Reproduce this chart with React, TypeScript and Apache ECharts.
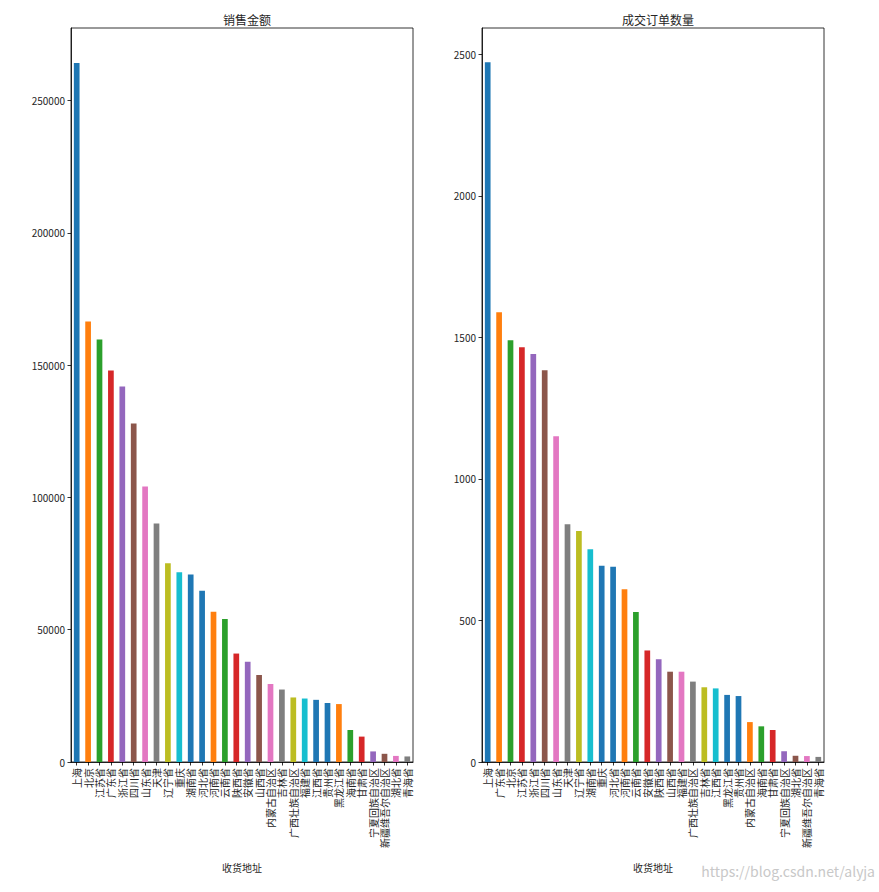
import React, { useEffect, useRef } from "react";
import * as echarts from "echarts";

const salesCategories = ["上海", "北京", "江苏省", "广东省", "浙江省", "四川省", "山东省", "天津", "辽宁省", "重庆", "湖南省", "河北省", "河南省", "云南省", "陕西省", "安徽省", "山西省", "内蒙古自治区", "吉林省", "广西壮族自治区", "福建省", "江西省", "贵州省", "黑龙江省", "海南省", "甘肃省", "宁夏回族自治区", "新疆维吾尔自治区", "湖北省", "青海省"];
const salesValues = [264300, 166500, 159700, 148000, 142000, 128000, 104200, 90200, 75100, 71700, 70900, 64700, 56800, 54100, 41000, 37900, 32900, 29500, 27400, 24400, 24000, 23500, 22300, 21900, 12100, 9600, 4000, 3100, 2300, 2100];

const orderCategories = ["上海", "广东省", "北京", "江苏省", "浙江省", "四川省", "山东省", "天津", "辽宁省", "湖南省", "重庆", "河北省", "河南省", "云南省", "安徽省", "陕西省", "山西省", "福建省", "广西壮族自治区", "吉林省", "江西省", "黑龙江省", "贵州省", "内蒙古自治区", "海南省", "甘肃省", "宁夏回族自治区", "湖北省", "新疆维吾尔自治区", "青海省"];
const orderValues = [2472, 1589, 1490, 1465, 1441, 1384, 1151, 840, 816, 752, 693, 690, 610, 530, 394, 363, 319, 319, 284, 264, 260, 237, 233, 141, 126, 113, 38, 22, 21, 18];

const salesTicks = { min: 0, max: 277500, interval: 50000 };
const orderTicks = { min: 0, max: 2593, interval: 500 };

const palette = ["#1f77b4", "#ff7f0e", "#2ca02c", "#d62728", "#9467bd", "#8c564b", "#e377c2", "#7f7f7f", "#bcbd22", "#17becf", "#1f77b4"];

const FONT = "Noto Sans CJK SC";

export default function App() {
  const ref = useRef<HTMLDivElement>(null);
  useEffect(() => {
    if (!ref.current) return;
    const chart = echarts.init(ref.current, undefined, { renderer: "svg" });
    const textColor = "#262626";
    const mkX = (cats: string[], gi: number) => ({
      type: "category",
      gridIndex: gi,
      data: cats,
      boundaryGap: true,
      name: "收货地址",
      nameLocation: "middle",
      nameGap: 100,
      nameTextStyle: { fontFamily: FONT, fontSize: 10, color: textColor },
      axisLine: { show: true, lineStyle: { color: "#000", width: 0.8 } },
      axisTick: { show: true, alignWithLabel: true, interval: 0, length: 3.5, lineStyle: { color: "#000", width: 0.8 } },
      axisLabel: { interval: 0, rotate: 90, margin: 6, fontFamily: FONT, fontSize: 10, color: textColor },
      splitLine: { show: false },
    });
    const mkY = (t: { min: number; max: number; interval: number }, gi: number) => ({
      type: "value",
      gridIndex: gi,
      min: t.min,
      max: t.max,
      interval: t.interval,
      axisLine: { show: true, lineStyle: { color: "#000", width: 0.8 } },
      axisTick: { show: true, length: 3.5, lineStyle: { color: "#000", width: 0.8 } },
      axisLabel: { showMaxLabel: false, margin: 6, fontFamily: FONT, fontSize: 10, color: textColor, formatter: (v: number) => String(v) },
      splitLine: { show: false },
    });
    const colorFn = (p: any) => palette[p.dataIndex % palette.length];
    chart.setOption({
      animation: false,
      backgroundColor: "#fff",
      title: [
        { text: "销售金额", left: 242, top: 8, textAlign: "center", textStyle: { fontFamily: FONT, fontSize: 12, fontWeight: "normal", color: textColor } },
        { text: "成交订单数量", left: 653, top: 8, textAlign: "center", textStyle: { fontFamily: FONT, fontSize: 12, fontWeight: "normal", color: textColor } },
      ],
      grid: [
        { left: 71, top: 28, width: 342, height: 734, show: true, borderColor: "#000", borderWidth: 0.8, backgroundColor: "transparent" },
        { left: 482, top: 28, width: 342, height: 734, show: true, borderColor: "#000", borderWidth: 0.8, backgroundColor: "transparent" },
      ],
      xAxis: [mkX(salesCategories, 0), mkX(orderCategories, 1)],
      yAxis: [mkY(salesTicks, 0), mkY(orderTicks, 1)],
      series: [
        { type: "bar", xAxisIndex: 0, yAxisIndex: 0, data: salesValues, barWidth: "50%", itemStyle: { color: colorFn } },
        { type: "bar", xAxisIndex: 1, yAxisIndex: 1, data: orderValues, barWidth: "50%", itemStyle: { color: colorFn } },
      ],
      graphic: [
        {
          type: "text",
          right: 4,
          top: 864,
          style: { text: "https://blog.csdn.net/alyja", fontFamily: FONT, fontSize: 14, fill: "#c8c8c8" },
        },
      ],
    });
    return () => chart.dispose();
  }, []);
  return <div ref={ref} style={{ position: "fixed", left: 0, top: 0, width: 879, height: 892 }} />;
}
